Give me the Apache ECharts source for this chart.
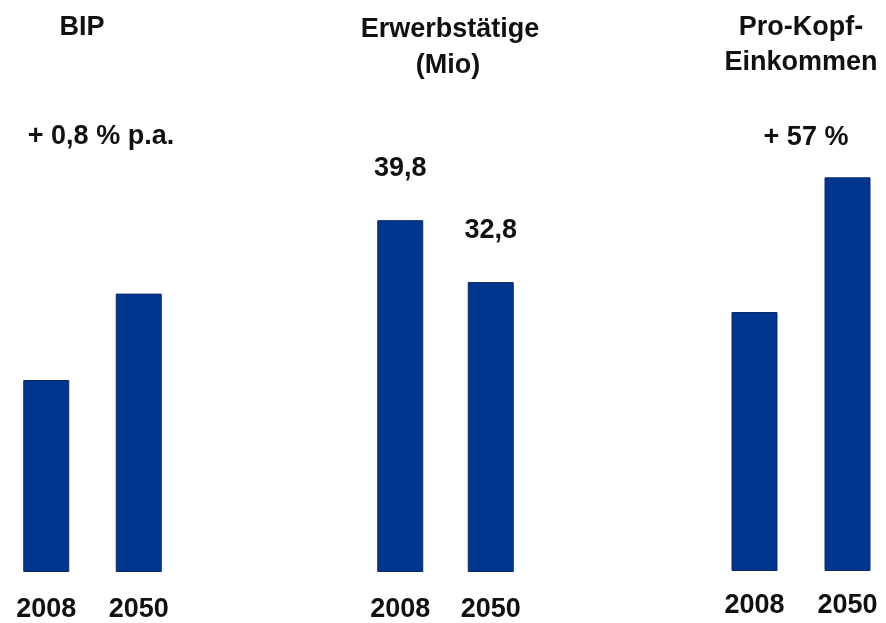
<!DOCTYPE html>
<html><head><meta charset="utf-8">
<script src="https://cdn.jsdelivr.net/npm/echarts@6/dist/echarts.min.js"></script>
<style>html,body{margin:0;padding:0;background:#fff;overflow:hidden}#c{width:910px;height:623px}</style>
</head><body><div id="c"></div>
<script>
// Data
const years = ['2008', '2050'];
const bipIndex = [100, 145];            // BIP (index, 2008 = 100)
const erwerbstaetige = [39.8, 32.8];    // Erwerbstätige (Mio)
const proKopfIndex = [100, 152];        // Pro-Kopf-Einkommen (index, 2008 = 100)
const panelTitles = [['BIP'], ['Erwerbstätige', '(Mio)'], ['Pro-Kopf-', 'Einkommen']];
const notes = ['+ 0,8 % p.a.', '', '+ 57 %'];

const FONT = '"Liberation Sans", Arial, sans-serif';
const BAR = '#003590';
const chart = echarts.init(document.getElementById('c'), null, {renderer: 'canvas'});

const grids = [
  {left: 0, width: 185, top: 188, height: 386},
  {left: 355, width: 181, top: 130, height: 445},
  {left: 708, width: 186, top: 53, height: 518}
];
const yMax = [200, 50, 200];
const labelMargin = [24, 24, 21];
const seriesData = [bipIndex, erwerbstaetige, proKopfIndex];

function txt(x, y, s) {
  return {type: 'text', x: x, y: y, style: {text: s, font: 'bold 27px ' + FONT, fill: '#111', textAlign: 'center', textVerticalAlign: 'middle'}};
}

const option = {
  animation: false,
  grid: grids.map(g => Object.assign({containLabel: false}, g)),
  xAxis: grids.map((g, i) => ({
    type: 'category', gridIndex: i, data: years,
    axisLine: {show: false}, axisTick: {show: false}, splitLine: {show: false},
    axisLabel: {color: '#111', fontFamily: FONT, fontWeight: 'bold', fontSize: 27, margin: labelMargin[i]}
  })),
  yAxis: grids.map((g, i) => ({
    type: 'value', gridIndex: i, min: 0, max: yMax[i], show: false, splitLine: {show: false}
  })),
  series: seriesData.map((d, i) => ({
    type: 'bar', xAxisIndex: i, yAxisIndex: i, data: d, barWidth: 46,
    itemStyle: {color: BAR, borderColor: '#0b2a66', borderWidth: 1},
    label: {
      show: i === 1, position: 'top', distance: 38,
      color: '#111', fontFamily: FONT, fontWeight: 'bold', fontSize: 27,
      formatter: p => String(p.value).replace('.', ',')
    }
  })),
  graphic: [
    txt(82, 28, panelTitles[0][0]),
    txt(450, 30, panelTitles[1][0]),
    txt(448, 66, panelTitles[1][1]),
    txt(801, 28, panelTitles[2][0]),
    txt(801, 63, panelTitles[2][1]),
    txt(101, 137, notes[0]),
    txt(806, 138, notes[2])
  ]
};
chart.setOption(option);
</script></body></html>
